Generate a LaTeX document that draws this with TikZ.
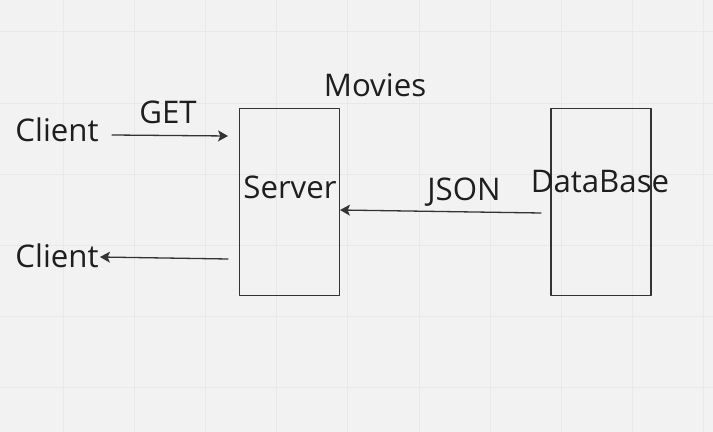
\documentclass[tikz,border=0pt]{standalone}
\usepackage{fontspec}
\setmainfont{Open Sans}
\usetikzlibrary{arrows.meta}
\definecolor{paper}{HTML}{F2F2F2}
\definecolor{gridln}{HTML}{E8E8E8}
\definecolor{ink}{HTML}{333333}
\definecolor{txt}{HTML}{1E1E1E}
\begin{document}
\begin{tikzpicture}[x=0.5pt, y=-0.5pt, line join=round, line cap=round,
    box/.style={draw=ink, line width=0.7pt, minimum width=50pt, minimum height=93.5pt, inner sep=0pt},
    lbl/.style={text=txt, font=\fontsize{15.6}{18}\selectfont, anchor=base, inner sep=0pt},
    arr/.style={draw=ink, line width=0.65pt, -{Stealth[length=5pt,width=5.5pt,inset=1.2pt]}}]
      \fill[paper] (0,0) rectangle (713,432);
      \useasboundingbox (0,0) rectangle (713,432);
      \foreach \i in {0,...,9} \draw[gridln, line width=0.5pt] (63+71.2*\i,0) -- (63+71.2*\i,432);
      \foreach \j in {0,...,5} \draw[gridln, line width=0.5pt] (0,32+71.2*\j) -- (713,32+71.2*\j);

      \node[box] (server) at (289.5,202) {};
      \node[box] (db) at (601,202) {};

      \node[lbl] (serverlbl) at (290,199) {Server};
      \node[lbl] (dblbl) at (600,192.5) {DataBase};
      \node[lbl] (movies) at (375,97) {Movies};
      \node[lbl] (clientin) at (57,141.5) {Client};
      \node[lbl] (clientout) at (57,268) {Client};
      \node[lbl] (get) at (168,124) {GET};
      \node[lbl] (json) at (464,200.5) {JSON};

      \coordinate (getfrom) at (112,135);
      \coordinate (getto) at (228,136);
      \coordinate (jsonfrom) at (541,213);
      \coordinate (jsonto) at (340,210);
      \coordinate (backfrom) at (228,259);
      \coordinate (backto) at (100,257);

      \draw[arr] (getfrom) -- (getto);
      \draw[arr] (jsonfrom) -- (jsonto);
      \draw[arr] (backfrom) -- (backto);
    \end{tikzpicture}
\end{document}
